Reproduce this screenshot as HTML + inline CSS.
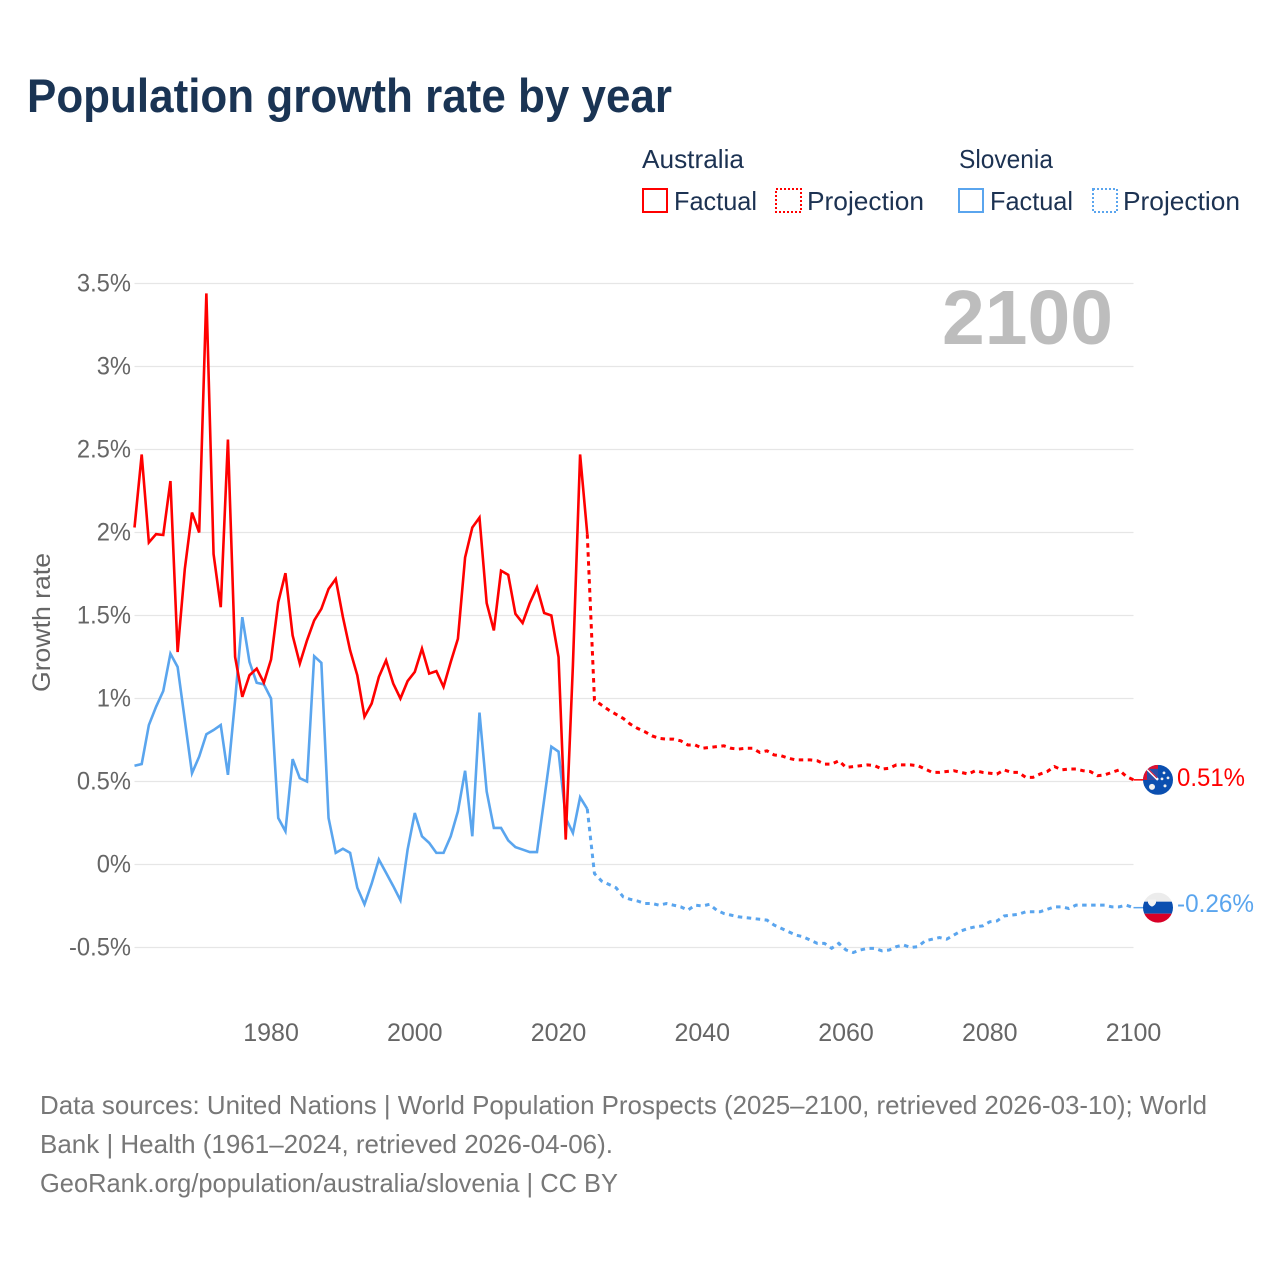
<!DOCTYPE html>
<html lang="en">
<head>
<meta charset="utf-8">
<title>Population growth rate by year</title>
<style>
html,body{margin:0;padding:0;background:#fff}
svg{display:block;font-family:"Liberation Sans",sans-serif}
</style>
</head>
<body>
<svg id="chart" xmlns="http://www.w3.org/2000/svg" width="1280" height="1280" viewBox="0 0 1280 1280">
  <rect width="1280" height="1280" fill="#fff"/>
  <text x="27" y="112" font-size="47" font-weight="700" fill="#1a3454" textLength="645" lengthAdjust="spacingAndGlyphs">Population growth rate by year</text>

  <g font-size="26" fill="#1c3252">
    <text x="642" y="168" textLength="102" lengthAdjust="spacingAndGlyphs">Australia</text>
    <text x="959" y="168" textLength="94" lengthAdjust="spacingAndGlyphs">Slovenia</text>
    <g>
      <rect x="643" y="189" width="24" height="23" fill="none" stroke="#ff0000" stroke-width="2"/>
      <text x="674" y="210" textLength="83" lengthAdjust="spacingAndGlyphs">Factual</text>
    </g>
    <g>
      <rect x="776" y="189" width="25" height="23" fill="none" stroke="#ff0000" stroke-width="2" stroke-dasharray="2 2"/>
      <text x="807" y="210" textLength="117" lengthAdjust="spacingAndGlyphs">Projection</text>
    </g>
    <g>
      <rect x="959" y="189" width="24" height="23" fill="none" stroke="#5aa5ee" stroke-width="2"/>
      <text x="990" y="210" textLength="83" lengthAdjust="spacingAndGlyphs">Factual</text>
    </g>
    <g>
      <rect x="1093" y="189" width="24" height="23" fill="none" stroke="#5aa5ee" stroke-width="2" stroke-dasharray="2 2"/>
      <text x="1123" y="210" textLength="117" lengthAdjust="spacingAndGlyphs">Projection</text>
    </g>
  </g>

  <g id="grid"></g>
  <g id="yticks"></g>
  <g id="xticks"></g>

  <text transform="translate(50,692) rotate(-90)" font-size="25" fill="#666" textLength="139" lengthAdjust="spacingAndGlyphs">Growth rate</text>
  <text x="942" y="344" font-size="77" font-weight="700" fill="#bdbdbd" textLength="171" lengthAdjust="spacingAndGlyphs">2100</text>

  <g id="series"></g>

  <defs>
    <clipPath id="clip-au"><circle cx="1158" cy="779" r="15"/></clipPath>
    <clipPath id="clip-si"><circle cx="1158" cy="907" r="15"/></clipPath>
  </defs>
  <g id="flag-au" clip-path="url(#clip-au)">
    <rect x="1143" y="764" width="30" height="30" fill="#0b4fb0"/>
    <rect x="1143" y="764" width="15" height="15" fill="#e0102f"/>
    <rect x="1147" y="768" width="11" height="11" fill="#2a4fa8"/>
    <path d="M1147 768 L1158 779" stroke="#fff" stroke-width="2.4"/>
    <path d="M1148 768 L1157 777" stroke="#e0102f" stroke-width="1"/>
    <circle cx="1152" cy="786" r="3" fill="#f0f0f0"/>
    <circle cx="1164" cy="772" r="1.4" fill="#f0f0f0"/>
    <circle cx="1168" cy="777" r="1.4" fill="#f0f0f0"/>
    <circle cx="1162" cy="778" r="1.4" fill="#f0f0f0"/>
    <circle cx="1165" cy="785" r="1.5" fill="#f0f0f0"/>
  </g>
  <g id="flag-si" clip-path="url(#clip-si)">
    <rect x="1143" y="892" width="30" height="9" fill="#ececec"/>
    <rect x="1143" y="901" width="30" height="12" fill="#0b4fb0"/>
    <rect x="1143" y="913" width="30" height="10" fill="#d80027"/>
    <path d="M1148 899 h8 v3 q-1 3 -4 4 q-3 -1 -4 -4z" fill="#f4f4f4"/>
  </g>

  <g id="endlabels"></g>

  <g font-size="26" fill="#777">
    <text x="40" y="1114" textLength="1167" lengthAdjust="spacingAndGlyphs">Data sources: United Nations | World Population Prospects (2025–2100, retrieved 2026-03-10); World</text>
    <text x="40" y="1153" textLength="573" lengthAdjust="spacingAndGlyphs">Bank | Health (1961–2024, retrieved 2026-04-06).</text>
    <text x="40" y="1192" textLength="578" lengthAdjust="spacingAndGlyphs">GeoRank.org/population/australia/slovenia | CC BY</text>
  </g>
</svg>

<script>
const yTickValues = [-0.5, 0, 0.5, 1, 1.5, 2, 2.5, 3, 3.5];
const xTickYears = [1980, 2000, 2020, 2040, 2060, 2080, 2100];
const firstYear = 1961;
const australiaFactual = [2.03,2.47,1.94,1.99,1.985,2.31,1.28,1.78,2.12,2.0,3.44,1.87,1.55,2.56,1.25,1.01,1.14,1.18,1.095,1.235,1.58,1.755,1.38,1.21,1.35,1.47,1.54,1.66,1.72,1.49,1.29,1.14,0.89,0.97,1.13,1.23,1.09,1.0,1.105,1.16,1.30,1.15,1.165,1.07,1.22,1.36,1.85,2.03,2.09,1.575,1.41,1.77,1.745,1.51,1.455,1.575,1.67,1.515,1.50,1.25,0.15,1.2,2.47,1.99];
const australiaProjection = [0.99,0.96,0.93,0.905,0.88,0.845,0.82,0.80,0.775,0.76,0.755,0.755,0.745,0.72,0.72,0.70,0.705,0.71,0.715,0.70,0.695,0.70,0.70,0.675,0.685,0.66,0.655,0.64,0.63,0.63,0.63,0.625,0.605,0.605,0.625,0.585,0.59,0.595,0.60,0.595,0.575,0.58,0.60,0.60,0.60,0.595,0.575,0.555,0.555,0.56,0.565,0.555,0.545,0.565,0.555,0.55,0.545,0.57,0.555,0.555,0.525,0.525,0.545,0.56,0.59,0.57,0.575,0.575,0.565,0.56,0.535,0.54,0.555,0.57,0.53,0.51];
const sloveniaFactual = [0.595,0.605,0.84,0.95,1.045,1.27,1.19,0.87,0.55,0.65,0.785,0.81,0.84,0.54,0.99,1.49,1.22,1.095,1.085,1.0,0.28,0.20,0.635,0.52,0.50,1.255,1.215,0.28,0.07,0.095,0.07,-0.14,-0.24,-0.115,0.03,-0.05,-0.13,-0.215,0.09,0.31,0.17,0.13,0.07,0.07,0.17,0.32,0.565,0.17,0.915,0.44,0.22,0.22,0.145,0.105,0.09,0.075,0.075,0.39,0.71,0.68,0.28,0.19,0.405,0.335];
const sloveniaProjection = [-0.055,-0.10,-0.12,-0.14,-0.195,-0.21,-0.22,-0.235,-0.235,-0.245,-0.235,-0.245,-0.255,-0.275,-0.245,-0.25,-0.24,-0.275,-0.295,-0.305,-0.315,-0.32,-0.325,-0.33,-0.335,-0.365,-0.385,-0.405,-0.425,-0.435,-0.455,-0.475,-0.475,-0.505,-0.475,-0.515,-0.53,-0.515,-0.505,-0.505,-0.52,-0.515,-0.495,-0.485,-0.50,-0.495,-0.46,-0.45,-0.44,-0.45,-0.425,-0.40,-0.385,-0.375,-0.37,-0.345,-0.34,-0.31,-0.305,-0.30,-0.285,-0.285,-0.285,-0.27,-0.255,-0.255,-0.265,-0.245,-0.245,-0.245,-0.245,-0.245,-0.255,-0.255,-0.245,-0.26];
const endLabels = ["0.51%", "-0.26%"];

const RED = "#ff0000";
const BLUE = "#5aa5ee";
const NS = "http://www.w3.org/2000/svg";

function xScale(year) { return 134.5 + (year - firstYear) * (1133.5 - 134.5) / (2100 - firstYear); }
function yScale(v) { return 864.5 - v * 166; }
function make(tag, attrs, parent) {
  const el = document.createElementNS(NS, tag);
  for (const k in attrs) el.setAttribute(k, attrs[k]);
  parent.appendChild(el);
  return el;
}
function linePath(values, startYear) {
  return values.map((v, i) => (i ? "L" : "M") + xScale(startYear + i).toFixed(2) + " " + yScale(v).toFixed(2)).join(" ");
}
function tickLabel(v) { return v + "%"; }

const grid = document.getElementById("grid");
const yticks = document.getElementById("yticks");
yTickValues.forEach(function (v) {
  const line = make("line", {x1: xScale(firstYear), x2: xScale(2100), y1: yScale(v), y2: yScale(v), stroke: "#e6e6e6", "stroke-width": 1.2}, grid);
  
  
  const t = make("text", {x: 131, y: yScale(v) + 8, "text-anchor": "end", "font-size": 25, fill: "#666"}, yticks);
  
  
  t.textContent = tickLabel(v);
  const natural = t.getComputedTextLength();
  t.setAttribute("textLength", (natural * 0.95).toFixed(1));
  t.setAttribute("lengthAdjust", "spacingAndGlyphs");
});

const xticks = document.getElementById("xticks");
xTickYears.forEach(function (yr) {
  const t = make("text", {x: xScale(yr), y: 1041, "text-anchor": "middle", "font-size": 25, fill: "#666"}, xticks);
  
  
  t.textContent = yr;
});

const series = document.getElementById("series");
function drawSeries(factual, projection, color, name) {
  const lastFactual = factual[factual.length - 1];
  const lastYear = firstYear + factual.length - 1;
  const solid = make("path", {d: linePath(factual, firstYear), fill: "none", stroke: color, "stroke-width": 2.6, "stroke-linejoin": "miter"}, series);
  
  
  const dashed = make("path", {d: linePath([lastFactual].concat(projection), lastYear), fill: "none", stroke: color, "stroke-width": 3, "stroke-dasharray": "4.5 4.5"}, series);
  
  
  const endV = projection[projection.length - 1];
  const conn = make("line", {x1: xScale(2100), x2: 1144, y1: yScale(endV), y2: yScale(endV), stroke: color, "stroke-width": 1.5}, series);
  
  
}
drawSeries(sloveniaFactual, sloveniaProjection, BLUE, 'slovenia');
drawSeries(australiaFactual, australiaProjection, RED, 'australia');

const endG = document.getElementById("endlabels");
const auEnd = yScale(australiaProjection[australiaProjection.length - 1]);
const siEnd = yScale(sloveniaProjection[sloveniaProjection.length - 1]);
document.getElementById("flag-au").setAttribute("transform", "translate(0," + (auEnd - 779).toFixed(2) + ")");
document.getElementById("flag-si").setAttribute("transform", "translate(0," + (siEnd - 907).toFixed(2) + ")");

const auLabel = make("text", {x: 1177, y: 786, "font-size": 25, fill: RED, textLength: 68, lengthAdjust: "spacingAndGlyphs"}, endG);


auLabel.textContent = endLabels[0];
const siLabel = make("text", {x: 1177, y: 912, "font-size": 25, fill: BLUE, textLength: 77, lengthAdjust: "spacingAndGlyphs"}, endG);


siLabel.textContent = endLabels[1];
</script>
</body>
</html>
